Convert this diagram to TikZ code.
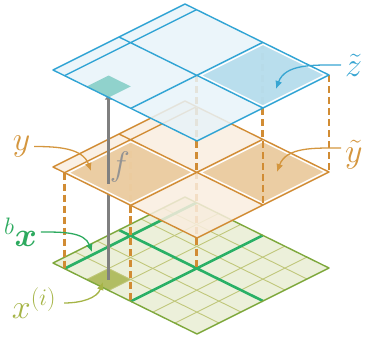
\RequirePackage{fix-cm}
\documentclass[tikz,border=0pt]{standalone}
\usepackage{amsmath,bm}
\usetikzlibrary{arrows.meta}

\definecolor{skyline}{RGB}{48,164,212}
\definecolor{skyfill}{RGB}{232,243,249}
\definecolor{skycell}{RGB}{176,218,236}
\definecolor{tealcell}{RGB}{128,205,197}
\definecolor{amberline}{RGB}{209,140,52}
\definecolor{amberfill}{RGB}{249,237,223}
\definecolor{ambercell}{RGB}{234,200,152}
\definecolor{mossfill}{RGB}{236,240,218}
\definecolor{mossgrid}{RGB}{192,199,122}
\definecolor{mossline}{RGB}{126,168,60}
\definecolor{mosscell}{RGB}{177,189,98}
\definecolor{blockgreen}{RGB}{42,176,102}
\definecolor{stemgray}{RGB}{128,128,128}
\definecolor{labelamber}{RGB}{212,150,62}
\definecolor{labelsky}{RGB}{55,165,210}
\definecolor{labelgreen}{RGB}{45,170,95}
\definecolor{labelmoss}{RGB}{165,180,70}

\begin{document}
\begin{tikzpicture}[
	x=1pt, y=1pt,
	sheet/.style={x={(144pt,-71pt)}, y={(132pt,66pt)}},
	green sheet/.style={sheet, shift={(53pt,-263pt)}},
	orange sheet/.style={sheet, shift={(53pt,-167pt)}},
	blue sheet/.style={sheet, shift={(53pt,-70pt)}},
	rim/.style={line width=1.4pt, line join=round},
	link/.style={draw=amberline, line width=2.8pt, dash pattern=on 7pt off 4pt},
	stem/.style={draw=stemgray, line width=2.4pt},
	pointer/.style={line width=1.3pt, -{Latex[length=8pt,width=7pt]}},
	lbl/.style={inner sep=0pt, outer sep=4pt, font=\fontsize{34}{40}\selectfont}
]
\useasboundingbox (0,0) rectangle (365,-337);

% pixels and blocks
\begin{scope}[green sheet]
	\fill[mossfill] (0,0) -- (1,0) -- (1,1) -- (0,1) -- cycle;
	\fill[mosscell] (0.233,0) -- (0.387,0) -- (0.387,0.167) -- (0.233,0.167) -- cycle;
	\foreach \s in {0.233,0.387,0.693,0.847}
		\draw[mossgrid, line width=0.9pt] (\s,0) -- (\s,1);
	\foreach \t in {1,2,4,5}
		\draw[mossgrid, line width=0.9pt] (0,\t/6) -- (1,\t/6);
	\draw[blockgreen, line width=2.6pt] (0.08,0) -- (0.08,1) (0.54,0) -- (0.54,1) (0,0.5) -- (1,0.5);
	\draw[mossline, rim] (0,0) -- (1,0) -- (1,1) -- (0,1) -- cycle;
	\coordinate (xcell) at (0.31,0.083);
\end{scope}

\begin{scope}[orange sheet]
	\foreach \s/\t in {0.08/0, 0.54/0, 0.54/0.5, 0.08/0.5}
		\draw[link] (\s,\t) -- ++(0pt,-96pt);
	\coordinate (fcross) at (0.31,0.083);
\end{scope}
\draw[stem] (xcell) -- (fcross);

\begin{scope}[orange sheet, fill opacity=0.85]
	\fill[amberfill] (0,0) -- (1,0) -- (1,1) -- (0,1) -- cycle;
	\filldraw[fill=ambercell, draw=white, line width=1.2pt] (0.095,0.015) -- (0.525,0.015) -- (0.525,0.485) -- (0.095,0.485) -- cycle;
	\filldraw[fill=ambercell, draw=white, line width=1.2pt] (0.555,0.515) -- (0.985,0.515) -- (0.985,0.985) -- (0.555,0.985) -- cycle;
	\draw[amberline, rim] (0.08,0) -- (0.08,1) (0.54,0) -- (0.54,1) (0,0.5) -- (1,0.5);
	\draw[amberline, rim] (0,0) -- (1,0) -- (1,1) -- (0,1) -- cycle;
\end{scope}

\begin{scope}[blue sheet]
	\foreach \s/\t in {0.54/0.5, 0.54/1, 1/0.5, 1/1}
		\draw[link] (\s,\t) -- ++(0pt,-97pt);
	\coordinate (zcell) at (0.31,0.083);
\end{scope}
\draw[stem, -{Latex[length=6pt,width=8pt]}] (fcross) -- ([yshift=-7pt]zcell);

\begin{scope}[blue sheet, fill opacity=0.85]
	\fill[skyfill] (0,0) -- (1,0) -- (1,1) -- (0,1) -- cycle;
	\filldraw[fill=skycell, draw=white, line width=1.2pt] (0.555,0.515) -- (0.985,0.515) -- (0.985,0.985) -- (0.555,0.985) -- cycle;
	\fill[tealcell] (0.233,0) -- (0.387,0) -- (0.387,0.167) -- (0.233,0.167) -- cycle;
	\draw[skyline, rim] (0.08,0) -- (0.08,1) (0.54,0) -- (0.54,1) (0,0.5) -- (1,0.5);
	\draw[skyline, rim] (0,0) -- (1,0) -- (1,1) -- (0,1) -- cycle;
\end{scope}

\node[lbl, text=labelamber] (ylbl) at (21.5,-146.5) {$y$};
\node[lbl, text=stemgray!85] (flbl) at (120,-167) {$f$};
\node[lbl, text=labelgreen] (blbl) at (20.5,-232) {${}^{b}\bm{x}$};
\node[lbl, text=labelmoss] (xlbl) at (34,-303) {$x^{(i)}$};
\node[lbl, text=labelsky, anchor=west] (zlbl) at (341,-65) {$\tilde{z}$};
\node[lbl, text=labelamber, anchor=west] (ytlbl) at (341,-155) {$\tilde{y}$};

\coordinate (ytip) at (91,-171);
\coordinate (btip) at (92,-252);
\coordinate (xtip) at (103,-282);
\coordinate (ztip) at (276,-89);
\coordinate (yttip) at (277,-172);

\draw[pointer, labelamber] (ylbl) to[out=0, in=110] (ytip);
\draw[pointer, labelgreen] (blbl) to[out=0, in=110] (btip);
\draw[pointer, labelmoss] ([xshift=4pt]xlbl.east) to[out=0, in=-110] (xtip);
\draw[pointer, labelsky] (zlbl) to[out=180, in=70] (ztip);
\draw[pointer, labelamber] ([yshift=7pt]ytlbl.west) to[out=180, in=70] (yttip);
\end{tikzpicture}
\end{document}
